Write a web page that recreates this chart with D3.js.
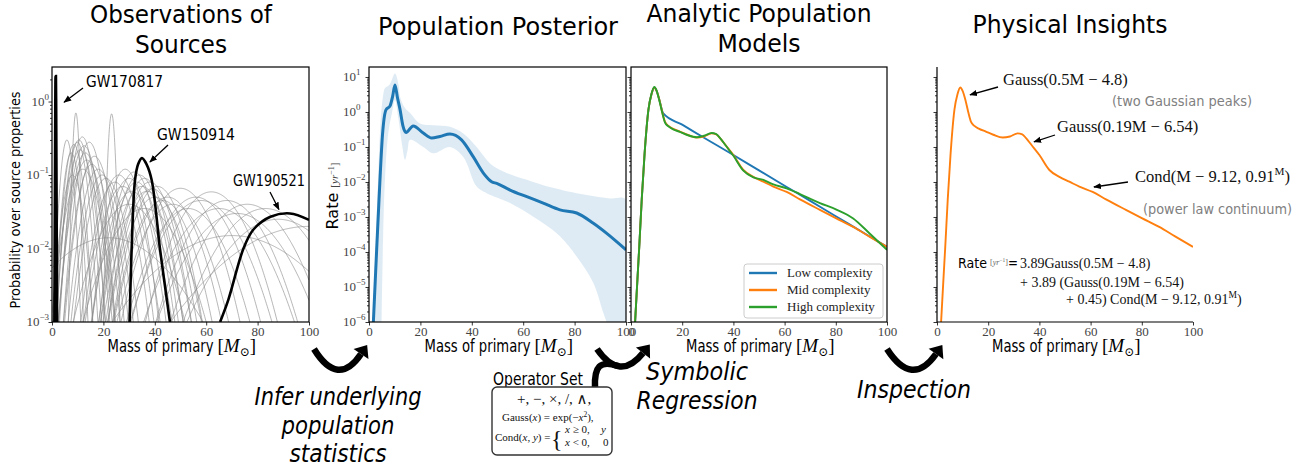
<!DOCTYPE html>
<html>
<head>
<meta charset="utf-8">
<script src="https://cdn.jsdelivr.net/npm/d3@7"></script>
<style>body{margin:0;background:#fff;}</style>
</head>
<body>
<div id="chart"></div>
<script>
// ---------- data ----------
var massTicks = [0, 20, 40, 60, 80, 100];
var obsDomain = [1e-3, 2.95];
var rateDomain = [1e-6, 19.3];

// highlighted events: [mass, probability]
var gw170817 = [[1.0, 1e-3], [1.2, 0.05], [1.35, 0.8], [1.45, 2.2], [1.55, 0.8], [1.7, 0.05], [1.9, 1e-3]];
var gw150914 = [[30.2, 1e-3], [31, 0.01], [32.3, 0.085], [33.5, 0.14], [35, 0.17], [36.8, 0.14], [38.8, 0.085], [42, 0.01], [44, 0.003], [45.9, 1e-3]];
var gw190521 = [[65.4, 1e-3], [68.6, 0.002], [74.5, 0.01], [78.3, 0.018], [85, 0.027], [92.6, 0.030], [100, 0.0245]];

// other events: [peak mass, peak probability, width]
var otherEvents = [
  [5.8,0.30,1.6],[7.5,0.2,2],[8.5,0.26,2.2],[9.3,0.7,0.8],[9.8,0.28,2.4],[10.5,0.3,2.6],[11,0.22,3],
  [11.8,0.33,2.6],[12.5,0.25,3],[13,0.2,3.2],[13.5,0.16,3.5],[14.5,0.28,3],[15.5,0.14,3.5],[16.5,0.18,3.6],
  [18,0.12,3.8],[19.5,0.1,4],[21,0.09,4.2],[23.2,0.68,0.9],[8,0.1,2.6],[12,0.12,4],
  [24.5,0.08,4.5],[26,0.1,4.5],[27.5,0.07,5],[28.5,0.12,4.2],[30,0.09,4.8],[31,0.06,5.5],[32,0.11,4.5],
  [33,0.08,5],[34,0.1,5],[35,0.07,5.5],[36,0.09,5],[37,0.06,6],[38,0.08,5.5],[39,0.065,6],[40,0.05,6.5],
  [41,0.07,6],[43,0.045,7],[30,0.04,8],[36,0.035,9],
  [45,0.05,7.5],[47,0.04,8],[50,0.066,8],[53,0.035,9],[56,0.05,9],[58,0.045,10],[62,0.059,9],[65,0.035,11],
  [68,0.045,10],[72,0.03,12],[76,0.04,11],[83,0.035,12],[88,0.025,14],
  [22,0.014,16],[100,0.02,22],[70,0.015,20]
];

// population posterior: median and 90% band, [mass, rate]
var postMedian = [[1.7,1e-6],[2.8,6e-5],[3.9,3.2e-3],[5.3,0.25],[6.6,1.15],[8.2,1.5],[9.2,2.8],[10.1,5.9],[11.1,2.5],
  [12.1,1.15],[13.2,0.4],[14.4,0.26],[17.2,0.40],[21.1,0.25],[24.4,0.18],[27.6,0.20],[31.5,0.235],[36,0.16],
  [40.6,0.052],[44.5,0.018],[47.7,0.0102],[49.7,0.0091],[54.9,0.0059],[61.4,0.0038],[67.8,0.0025],[74.3,0.0016],
  [80.8,0.0013],[87.3,0.00066],[92.5,0.00034],[100,0.000115]];
var postUpper = [[1.5,1e-6],[2.5,1e-4],[3.5,0.01],[4.5,0.5],[5.5,3],[6.2,4.8],[8,6],[10.1,12.6],[11.5,6],[12.1,2.7],
  [14,1.3],[16,0.93],[19.8,0.47],[25,0.42],[31.5,0.38],[36.7,0.245],[41.9,0.10],[47.1,0.034],[52.3,0.020],
  [61.4,0.0115],[67.8,0.0081],[80.8,0.0048],[93.8,0.0034],[100,0.0031]];
var postLower = [[4.9,1e-6],[5.5,3e-4],[6.2,0.011],[7.5,0.25],[9,1.0],[10.1,2.2],[11.5,0.6],[13,0.1],[14,0.043],
  [15,0.08],[16,0.16],[21.1,0.10],[25,0.066],[31.5,0.10],[36.7,0.052],[41.9,0.0074],[45.8,0.0048],[54.9,0.0025],
  [67.8,0.00066],[74.3,0.00028],[80.8,7.4e-5],[87.3,1.3e-5],[91.2,1.8e-6],[92.5,1e-6],[96,3e-7],[100,1e-7]];

// analytic models, [mass, rate]
var lowComplexity = [[1.6,1e-6],[2.5,1.6e-5],[3.2,1.3e-4],[4.2,3.2e-3],[5.3,0.063],[6.8,1.15],[8,3.2],[9.1,5.0],
  [10,4.0],[11.1,2.2],[12.6,0.91],[20,0.434],[30,0.159],[40,0.059],[50,0.0214],[60,0.00783],[70,0.0029],
  [80,0.00105],[90,0.000385],[100,0.00014]];
var midComplexity = [[1.6,1e-6],[2.5,1.6e-5],[3.2,1.3e-4],[4.2,3.2e-3],[5.3,0.063],[6.8,1.15],[8,3.2],[9.1,5.0],
  [10,4.0],[11.1,2.2],[12.2,1.0],[13.3,0.52],[14.6,0.40],[16.5,0.33],[19.1,0.275],[22,0.224],[25.7,0.186],
  [28.5,0.2],[31.5,0.245],[33.3,0.23],[34.8,0.178],[37,0.112],[40,0.059],[43.9,0.022],[47.8,0.014],[51.7,0.0102],
  [55.6,0.0074],[60.8,0.0052],[66,0.0032],[73.8,0.0016],[80,0.00093],[86.8,0.00052],[93,0.00028],[100,0.00014]];
var highComplexity = [[1.6,1e-6],[2.5,1.6e-5],[3.2,1.3e-4],[4.2,3.2e-3],[5.3,0.063],[6.8,1.15],[8,3.3],[9.1,5.2],
  [10,4.1],[11.1,2.1],[12.2,0.95],[13.3,0.5],[14.6,0.39],[16.5,0.32],[19.1,0.27],[22,0.22],[25.7,0.19],
  [28.5,0.21],[31.5,0.25],[33.3,0.235],[34.8,0.18],[37,0.11],[40,0.056],[43.9,0.021],[47.8,0.0135],[51.7,0.0115],
  [55.6,0.0085],[60.8,0.0066],[66,0.0045],[73.8,0.0025],[80,0.00166],[86.8,0.00091],[93,0.00035],[100,0.000115]];
var modelNames = ["Low complexity", "Mid complexity", "High complexity"];

// ---------- drawing ----------
var W = 1309, H = 472, TOP = 67, BOT = 322;
var serif = "'Liberation Serif','DejaVu Serif',serif";
var sans = "'DejaVu Sans',sans-serif";
var colors = ["#1f77b4", "#ff7f0e", "#2ca02c"];

var svg = d3.select("#chart").append("svg")
    .attr("width", W).attr("height", H)
    .style("font-family", sans);
var defs = svg.append("defs");
defs.append("marker").attr("id", "head")
    .attr("viewBox", "0 0 10 10").attr("refX", 9).attr("refY", 5)
    .attr("markerWidth", 6).attr("markerHeight", 6).attr("orient", "auto")
    .append("path").attr("d", "M0,1 L10,5 L0,9 z").attr("fill", "#000");

function makePanel(id, x0, x1, ydom) {
    var p = {};
    p.x = d3.scaleLinear().domain([0, 100]).range([x0, x1]);
    p.y = d3.scaleLog().domain(ydom).range([BOT, TOP]);
    defs.append("clipPath").attr("id", id).append("rect")
        .attr("x", x0).attr("y", TOP).attr("width", x1 - x0).attr("height", BOT - TOP);
    p.g = svg.append("g");
    p.plot = p.g.append("g").attr("clip-path", "url(#" + id + ")");
    p.line = d3.line().x(function (d) { return p.x(d[0]); })
        .y(function (d) { return p.y(Math.max(d[1], 1e-9)); })
        .curve(d3.curveMonotoneX);
    return p;
}

function logAxis(p, x0, labelMode) {
    var d = p.y.domain();
    var lo = Math.round(Math.log10(d[0])), hi = Math.floor(Math.log10(d[1]));
    var majors = [], minors = [];
    for (var k = lo; k <= hi + 1; k++) {
        if (k <= hi) majors.push(Math.pow(10, k));
        for (var j = 2; j < 10; j++) {
            var v = j * Math.pow(10, k);
            if (v > d[0] && v < d[1]) minors.push(v);
        }
    }
    var ax = p.g.append("g").attr("transform", "translate(" + x0 + ",0)");
    ax.call(d3.axisLeft(p.y).tickValues(majors).tickSize(3.5).tickFormat(""));
    ax.append("g").call(d3.axisLeft(p.y).tickValues(minors).tickSize(2).tickFormat(""));
    ax.selectAll(".domain").remove();
    ax.selectAll("line").attr("stroke", "#000").attr("stroke-width", 0.8);
    if (!labelMode) return;
    majors.forEach(function (v) {
        var e = Math.round(Math.log10(v));
        var t = ax.append("text").attr("font-family", serif).attr("font-size", 13).attr("fill", "#444")
            .attr("y", p.y(v) + 4);
        if (labelMode === "end") t.attr("x", -3).attr("text-anchor", "end");
        else t.attr("x", -26).attr("text-anchor", "start");
        t.append("tspan").text("10");
        t.append("tspan").attr("font-size", 9).attr("dy", -6).text(e < 0 ? "\u2212" + (-e) : e);
    });
}

function massAxis(p, full) {
    var ax = p.g.append("g").attr("transform", "translate(0," + BOT + ")");
    ax.call(d3.axisBottom(p.x).tickValues(massTicks).tickSize(3.5).tickPadding(1.5));
    ax.select(".domain").remove();
    ax.selectAll("line").attr("stroke", "#000").attr("stroke-width", 0.8);
    ax.selectAll("text").attr("font-family", serif).attr("font-size", 13).attr("fill", "#444");
    var r = p.x.range();
    if (full) {
        p.g.append("rect").attr("x", r[0]).attr("y", TOP).attr("width", r[1] - r[0]).attr("height", BOT - TOP)
            .attr("fill", "none").attr("stroke", "#000").attr("stroke-width", 1.2);
    } else {
        p.g.append("path").attr("d", "M" + r[0] + "," + TOP + "V" + BOT + "H" + r[1])
            .attr("fill", "none").attr("stroke", "#000").attr("stroke-width", 1.2);
    }
    // axis title
    var cx = (r[0] + r[1]) / 2, sx = cx - 73;
    p.g.append("text").attr("x", sx).attr("y", 352).attr("font-size", 17)
        .attr("textLength", 106).attr("lengthAdjust", "spacingAndGlyphs").text("Mass of primary");
    var m = p.g.append("text").attr("x", sx + 110).attr("y", 352).attr("font-family", serif).attr("font-size", 19);
    m.append("tspan").text("[");
    m.append("tspan").attr("font-style", "italic").text("M");
    m.append("tspan").attr("font-size", 12).attr("dy", 4).text("\u2299");
    m.append("tspan").attr("dy", -4).text("]");
}

function fitText(x, y, str, size, width, opts) {
    opts = opts || {};
    var t = svg.append("text").attr("x", x).attr("y", y).attr("font-size", size)
        .attr("text-anchor", opts.anchor || "middle")
        .attr("fill", opts.fill || "#000")
        .attr("textLength", width).attr("lengthAdjust", "spacingAndGlyphs").text(str);
    if (opts.italic) t.attr("font-style", "italic");
    if (opts.family) t.attr("font-family", opts.family);
    return t;
}

function annotate(p, tip, tail) {
    svg.append("line").attr("x1", tail[0]).attr("y1", tail[1])
        .attr("x2", p.x(tip[0])).attr("y2", p.y(tip[1]))
        .attr("stroke", "#000").attr("stroke-width", 1.3).attr("marker-end", "url(#head)");
}

// parts: plain strings, or {t, sup, down, it}
function mathText(x, y, size, parts) {
    var t = svg.append("text").attr("x", x).attr("y", y).attr("font-family", serif).attr("font-size", size)
        .attr("fill", "#111");
    var shift = Math.round(size * 0.4);
    parts.forEach(function (s) {
        var o = (typeof s === "string") ? { t: s } : s;
        var ts = t.append("tspan").text(o.t);
        if (o.sup === true) ts.attr("font-size", size * 0.68).attr("dy", -shift);
        if (o.down === true) ts.attr("dy", shift);
        if (o.it === true) ts.attr("font-style", "italic");
    });
    return t;
}

// ---- panel 1: observations ----
var p1 = makePanel("c1", 52, 309, obsDomain);
var grid = d3.range(0, 100.01, 0.2);
otherEvents.forEach(function (ev) {
    var pts = grid.map(function (m) {
        var z = (m - ev[0]) / ev[2];
        return [m, Math.max(ev[1] * Math.exp(-0.5 * z * z), 1e-5)];
    });
    p1.plot.append("path").attr("d", p1.line(pts)).attr("fill", "none")
        .attr("stroke", "#8a8a8a").attr("stroke-opacity", 0.7).attr("stroke-width", 0.9);
});
var eventLine = d3.line().x(function (d) { return p1.x(d[0]); }).y(function (d) { return p1.y(d[1]); })
    .curve(d3.curveCatmullRom);
[[gw170817, 3], [gw150914, 2.6], [gw190521, 2.6]].forEach(function (e) {
    p1.plot.append("path").attr("d", eventLine(e[0])).attr("fill", "none")
        .attr("stroke", "#000").attr("stroke-width", e[1]);
});
logAxis(p1, 52, "end");
massAxis(p1, true);
svg.append("text").attr("transform", "translate(20,200) rotate(-90)").attr("text-anchor", "middle")
    .attr("font-size", 14).attr("textLength", 217).attr("lengthAdjust", "spacingAndGlyphs")
    .text("Probability over source properties");
fitText(86, 87, "GW170817", 15, 77, { anchor: "start" });
fitText(157, 140, "GW150914", 15, 78, { anchor: "start" });
fitText(233, 186, "GW190521", 15, 72, { anchor: "start" });
annotate(p1, [4.7, 0.98], [83, 88]);
annotate(p1, [38.1, 0.15], [168, 145]);
annotate(p1, [88.3, 0.034], [270, 192]);

// ---- panel 2: population posterior ----
var p2 = makePanel("c2", 369, 626, rateDomain);
var bandLine = d3.line().x(function (d) { return p2.x(d[0]); }).y(function (d) { return p2.y(d[1]); })
    .curve(d3.curveCatmullRom);
p2.plot.append("path")
    .attr("d", bandLine(postUpper.concat(postLower.slice().reverse())) + "Z")
    .attr("fill", "#1f77b4").attr("fill-opacity", 0.15);
p2.plot.append("path").attr("d", p2.line(postMedian)).attr("fill", "none")
    .attr("stroke", colors[0]).attr("stroke-width", 3);
logAxis(p2, 369, "start");
massAxis(p2, true);
var rl = svg.append("text").attr("transform", "translate(338,196) rotate(-90)").attr("text-anchor", "middle");
rl.append("tspan").attr("font-size", 16).text("Rate ");
rl.append("tspan").attr("font-family", serif).attr("font-size", 11).attr("fill", "#444").text("[");
rl.append("tspan").attr("font-family", serif).attr("font-size", 11).attr("fill", "#444").attr("font-style", "italic").text("yr");
rl.append("tspan").attr("font-family", serif).attr("font-size", 8).attr("fill", "#444").attr("dy", -4).text("\u22121");
rl.append("tspan").attr("font-family", serif).attr("font-size", 11).attr("fill", "#444").attr("dy", 4).text("]");

// ---- panel 3: analytic models ----
var p3 = makePanel("c3", 631, 887, rateDomain);
[lowComplexity, midComplexity, highComplexity].forEach(function (s, i) {
    p3.plot.append("path").attr("d", p3.line(s)).attr("fill", "none")
        .attr("stroke", colors[i]).attr("stroke-width", 1.9);
});
logAxis(p3, 631, null);
massAxis(p3, true);
var lg = svg.append("g");
lg.append("rect").attr("x", 744).attr("y", 264).attr("width", 139).attr("height", 54).attr("rx", 3)
    .attr("fill", "#fff").attr("fill-opacity", 0.8).attr("stroke", "#ccc");
modelNames.forEach(function (n, i) {
    var yy = 273 + i * 17;
    lg.append("line").attr("x1", 749).attr("x2", 777).attr("y1", yy).attr("y2", yy)
        .attr("stroke", colors[i]).attr("stroke-width", 2.4);
    lg.append("text").attr("x", 787).attr("y", yy + 4).attr("font-family", serif).attr("font-size", 13)
        .attr("fill", "#222").text(n);
});

// ---- panel 4: physical insights ----
var p4 = makePanel("c4", 937, 1193, rateDomain);
p4.plot.append("path").attr("d", p4.line(midComplexity)).attr("fill", "none")
    .attr("stroke", colors[1]).attr("stroke-width", 1.9);
logAxis(p4, 937, null);
massAxis(p4, false);

mathText(1003, 85, 16.5, ["Gauss(0.5M \u2212 4.8)"]);
fitText(1112, 106, "(two Gaussian peaks)", 14, 140, { anchor: "start", fill: "#808080" });
mathText(1057, 132, 16.5, ["Gauss(0.19M \u2212 6.54)"]);
mathText(1135, 182, 16.5, ["Cond(M \u2212 9.12, 0.91", { t: "M", sup: true }, { t: ")", down: true }]);
fitText(1143, 214, "(power law continuum)", 14, 149, { anchor: "start", fill: "#808080" });
annotate(p4, [12.9, 3.1], [998, 87]);
annotate(p4, [37.9, 0.14], [1055, 135]);
annotate(p4, [61.3, 0.0072], [1128, 182]);

fitText(958, 268, "Rate", 14, 29, { anchor: "start" });
mathText(990, 265, 8, ["[", { t: "yr", it: true }, { t: "\u22121", sup: true }, { t: "]", down: true }]).attr("fill", "#666");
fitText(1008, 268, "=", 15, 10, { anchor: "start" });
mathText(1020, 268, 14, ["3.89Gauss(0.5M \u2212 4.8)"]);
mathText(1020, 287, 14, ["+ 3.89 (Gauss(0.19M \u2212 6.54)"]);
mathText(1066, 304, 14, ["+ 0.45) Cond(M \u2212 9.12, 0.91", { t: "M", sup: true }, { t: ")", down: true }]);

// ---- titles ----
fitText(181, 23, "Observations of", 25, 182);
fitText(181, 53, "Sources", 25, 92);
fitText(498, 35, "Population Posterior", 25, 240);
fitText(759, 22, "Analytic Population", 25, 225);
fitText(759, 52, "Models", 25, 83);
fitText(1070, 33, "Physical Insights", 25, 195);

// ---- process arrows ----
function bigArrow(s, c, e) {
    svg.append("path").attr("d", "M" + s + "Q" + c + " " + e).attr("fill", "none")
        .attr("stroke", "#000").attr("stroke-width", 6.5);
    var dx = e[0] - c[0], dy = e[1] - c[1], L = Math.hypot(dx, dy);
    dx /= L; dy /= L;
    var tip = [e[0] + dx * 11, e[1] + dy * 11], nx = -dy, ny = dx;
    svg.append("path").attr("d", "M" + tip + "L" + [e[0] + nx * 9, e[1] + ny * 9] + "L" + [e[0] - nx * 9, e[1] - ny * 9] + "Z")
        .attr("fill", "#000");
}
svg.append("path").attr("d", "M595,388 C594,366 600,360 618,366").attr("fill", "none")
    .attr("stroke", "#000").attr("stroke-width", 6.5);
bigArrow([314, 349], [338, 388], [361, 354]);
bigArrow([597, 349], [620, 382], [643, 353]);
bigArrow([887, 349], [912, 388], [936, 354]);

fitText(338, 405, "Infer underlying", 24, 167, { italic: true });
fitText(338, 434, "population", 24, 113, { italic: true });
fitText(338, 462, "statistics", 24, 97, { italic: true });
fitText(697, 380, "Symbolic", 24, 102, { italic: true });
fitText(697, 409, "Regression", 24, 121, { italic: true });
fitText(914, 398, "Inspection", 24, 114, { italic: true });

// ---- operator set box ----
fitText(493, 385, "Operator Set", 17, 90, { anchor: "start" });
svg.append("rect").attr("x", 492).attr("y", 387).attr("width", 120).attr("height", 68).attr("rx", 5)
    .attr("fill", "#fff").attr("stroke", "#333").attr("stroke-width", 1.4);
mathText(517, 404, 15, ["+, \u2212, \u00d7, /, \u2227,"]);
mathText(502, 421, 11, ["Gauss(", { t: "x", it: true }, ") = exp(\u2212", { t: "x", it: true }, { t: "2", sup: true }, { t: "),", down: true }]);
mathText(495, 441, 11, ["Cond(", { t: "x", it: true }, ", ", { t: "y", it: true }, ") ="]);
mathText(551, 447, 24, ["{"]);
mathText(565, 433, 11, [{ t: "x", it: true }, " \u2265 0,"]);
mathText(601, 433, 11, [{ t: "y", it: true }]);
mathText(565, 446, 11, [{ t: "x", it: true }, " < 0,"]);
mathText(603, 446, 11, ["0"]);
</script>
</body>
</html>
